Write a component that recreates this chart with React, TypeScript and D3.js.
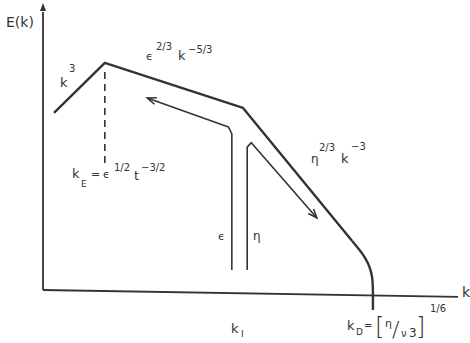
import React from 'react';
import * as d3 from 'd3';

// schematic units: x = log k, y = log E (0..100 each)
const spectrumMain: [number, number][] = [
  [2.65, 63.7],
  [14.9, 81.7],
  [48.2, 65.5],
  [74.5, 17.6],
];
const spectrumTail: [number, number][] = [
  [74.5, 17.6],
  [78.1, 11.2],
  [79.5, 5.0],
  [79.5, -1.8],
  [79.5, -7.2],
];
const epsFlux: [number, number][] = [
  [45.5, 7.2],
  [45.5, 56.2],
  [44.7, 58.6],
  [25.1, 69.1],
];
const etaFlux: [number, number][] = [
  [49.2, 7.2],
  [49.2, 51.4],
  [50.2, 53.0],
  [66.0, 25.9],
];
const kE: [number, number][] = [
  [14.9, 78.4],
  [14.9, 45.0],
];

const W = 470;
const H = 343;
const ink = '#333';
const font = 'DejaVu Sans, sans-serif';

export default function App() {
  const x = d3.scaleLinear().domain([0, 100]).range([43, 458]);
  const y = d3.scaleLinear().domain([0, 100]).range([290, 12]);
  const line = d3.line<[number, number]>().x(d => x(d[0])).y(d => y(d[1]));
  const tail = d3.line<[number, number]>().x(d => x(d[0])).y(d => y(d[1])).curve(d3.curveBasis);

  const sup = { fontSize: 10 } as const;

  return (
    <svg width={W} height={H} style={{ position: 'absolute', left: 0, top: 0, background: '#fff' }}>
      <defs>
        <marker id="arr" viewBox="-10 -5 12 10" refX="0" refY="0" markerWidth="12" markerHeight="10" markerUnits="userSpaceOnUse" orient="auto">
          <path d="M-9,-3.5 L0,0 L-9,3.5" fill="none" stroke={ink} strokeWidth={1.5} />
        </marker>
        <marker id="yarr" viewBox="-6 -10 12 12" refX="0" refY="0" markerWidth="12" markerHeight="12" markerUnits="userSpaceOnUse" orient="0">
          <path d="M-3,-1 L0,-9 L3,-1 Z" fill={ink} />
        </marker>
      </defs>

      {/* axes */}
      <line x1={x(0)} y1={y(0)} x2={x(0)} y2={y(100)} stroke={ink} strokeWidth={1.8} markerEnd="url(#yarr)" />
      <line x1={x(0)} y1={y(0)} x2={x(100)} y2={y(-2.5)} stroke={ink} strokeWidth={1.8} />

      {/* spectrum */}
      <path d={line(spectrumMain) ?? ''} fill="none" stroke={ink} strokeWidth={2.4} strokeLinejoin="round" />
      <path d={tail(spectrumTail) ?? ''} fill="none" stroke={ink} strokeWidth={2.4} />

      {/* fluxes */}
      <path d={line(epsFlux) ?? ''} fill="none" stroke={ink} strokeWidth={1.6} strokeLinejoin="round" markerEnd="url(#arr)" />
      <path d={line(etaFlux) ?? ''} fill="none" stroke={ink} strokeWidth={1.6} strokeLinejoin="round" markerEnd="url(#arr)" />

      {/* k_E dashed */}
      <path d={line(kE) ?? ''} stroke={ink} strokeWidth={1.6} strokeDasharray="7,5" />

      <g fill={ink} fontFamily={font} fontSize={13}>
        <text x={6} y={27} fontSize={14}>E(k)</text>
        <text x={462} y={297} fontSize={14}>k</text>

        <text x={60} y={87}>k</text>
        <text x={69} y={72} style={sup}>3</text>

        <text x={146} y={60} fontSize={11}>ϵ</text>
        <text x={156} y={50} style={sup}>2/3</text>
        <text x={178} y={60}>k</text>
        <text x={188} y={53} style={sup}>−5/3</text>

        <text x={311} y={163} fontSize={12}>η</text>
        <text x={319} y={151} style={sup}>2/3</text>
        <text x={341} y={163}>k</text>
        <text x={351} y={150} style={sup}>−3</text>

        <text x={72} y={178}>k</text>
        <text x={81} y={187} fontSize={9}>E</text>
        <text x={91} y={178} fontSize={11}>=</text>
        <text x={103} y={178} fontSize={11}>ϵ</text>
        <text x={114} y={171} style={sup}>1/2</text>
        <text x={134} y={180}>t</text>
        <text x={141} y={171} style={sup}>−3/2</text>

        <text x={218} y={240} fontSize={11}>ϵ</text>
        <text x={253} y={240} fontSize={12}>η</text>

        <text x={231} y={333}>k</text>
        <text x={241} y={337} fontSize={9}>I</text>

        <text x={347} y={330}>k</text>
        <text x={356} y={335} fontSize={9}>D</text>
        <text x={364} y={329} fontSize={10}>=</text>
        <text x={375} y={335} fontSize={24} fontWeight={300}>[</text>
        <text x={385} y={327} fontSize={11}>η</text>
        <text x={392} y={337} fontSize={22} fontWeight={300}>/</text>
        <text x={401} y={337} fontSize={10}>ν</text>
        <text x={409} y={337} fontSize={12}>3</text>
        <text x={416} y={335} fontSize={24} fontWeight={300}>]</text>
        <text x={430} y={312} style={sup}>1/6</text>
      </g>
    </svg>
  );
}
